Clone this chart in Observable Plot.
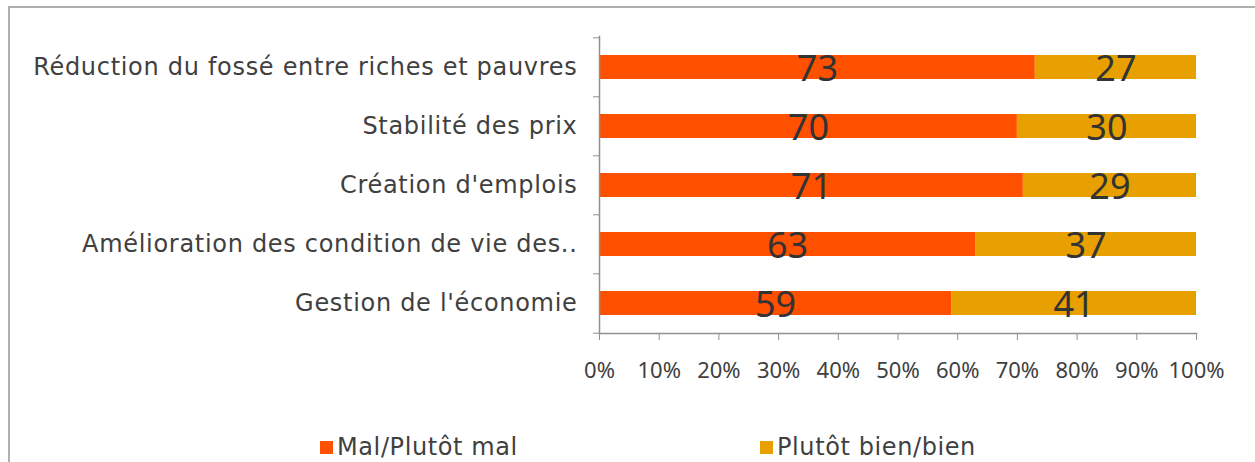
<!DOCTYPE html>
<html><head><meta charset="utf-8">
<script src="https://cdn.jsdelivr.net/npm/d3@7"></script>
<script src="https://cdn.jsdelivr.net/npm/@observablehq/plot@0.6"></script>
<style>
body{margin:0;background:#fff;font-family:"DejaVu Sans",sans-serif;}
#wrap{position:relative;width:1255px;height:462px;overflow:hidden;}
#border{position:absolute;left:8px;top:6px;width:1400px;height:600px;border:2px solid #b0b0b0;box-sizing:border-box;}
#chart{position:absolute;left:0;top:0;}
.leg{position:absolute;top:433px;font-size:24px;letter-spacing:0.6px;color:#404040;white-space:nowrap;display:flex;align-items:center;}
.sw{display:inline-block;width:13px;height:13px;margin-right:4px;}
.ylab text{letter-spacing:0.7px;}
</style></head>
<body><div id="wrap"><div id="border"></div><div id="chart"></div>
<div class="leg" style="left:320px"><span class="sw" style="background:#FF5000"></span>Mal/Plutôt mal</div>
<div class="leg" style="left:760px"><span class="sw" style="background:#E8A000"></span>Plutôt bien/bien</div>
</div>
<script>
const categories = ["Réduction du fossé entre riches et pauvres","Stabilité des prix","Création d'emplois","Amélioration des condition de vie des..","Gestion de l'économie"];
const series = ["Mal/Plutôt mal","Plutôt bien/bien"];
const malValues = [73,70,71,63,59];
const bienValues = [27,30,29,37,41];
const xTicks = [0,10,20,30,40,50,60,70,80,90,100];
const colors = ["#FF5000","#E8A000"];

const data = [];
categories.forEach((c,i)=>{
  data.push({cat:c, serie:series[0], value:malValues[i]});
  data.push({cat:c, serie:series[1], value:bienValues[i]});
});

const mt=36, mb=129, H=462;
const step=(H-mt-mb)/(5-0.6+0.6);
const gray="#909090";
const txt="#404040";

const chart = Plot.plot({
  width:1255, height:H,
  marginLeft:599, marginRight:59, marginTop:mt, marginBottom:mb,
  style:{fontFamily:'"Noto Sans", sans-serif', background:"transparent", color:txt},
  x:{domain:[0,100], label:null},
  y:{domain:categories, paddingInner:0.6, paddingOuter:0.3, label:null},
  color:{domain:series, range:colors},
  marks:[
    Plot.barX(data, Plot.stackX({y:"cat", x:"value", fill:"serie", order:series})),
    Plot.text(data, Plot.stackX({y:"cat", x:"value", z:"serie", order:series, text:"value", fontSize:36, fill:"#333", dy:2})),
    Plot.axisY({tickSize:0, tickPadding:22, fontSize:24, fill:txt, fontFamily:'"DejaVu Sans", sans-serif', className:"ylab", label:null}),
    Plot.axisY({tickSize:6, text:null, stroke:gray, dy:-step/2, label:null}),
    Plot.axisY([categories[categories.length-1]], {tickSize:6, text:null, stroke:gray, dy:step/2, label:null}),
    Plot.axisX({ticks:xTicks, tickSize:7, tickPadding:22, tickFormat:d=>d+"%", fontSize:22, stroke:gray, fill:txt, label:null}),
    Plot.frame({anchor:"left", stroke:gray, strokeWidth:1.5}),
    Plot.frame({anchor:"bottom", stroke:gray, strokeWidth:1.5})
  ]
});
document.getElementById("chart").appendChild(chart);
</script></body></html>
